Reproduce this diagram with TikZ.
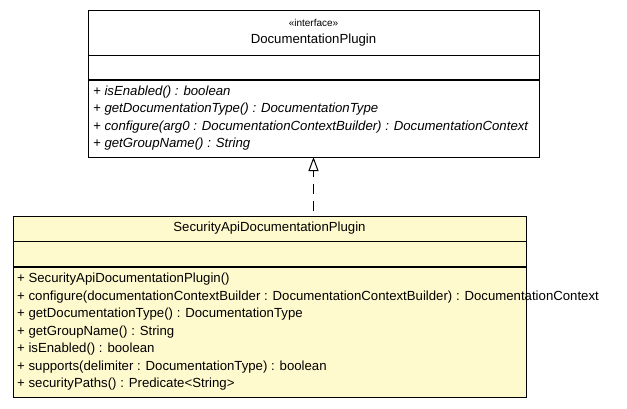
\documentclass[tikz,border=0pt]{standalone}
\usepackage{fontspec}
\setmainfont{Liberation Sans}
\usetikzlibrary{arrows.meta}
\definecolor{noteyellow}{RGB}{255,250,205}
\begin{document}
\begin{tikzpicture}[x=1pt,y=-1pt,
  umlbox/.style={draw=black, line width=1pt, inner sep=0pt, anchor=north west},
  sep/.style={draw=black, line width=1pt},
  septhick/.style={draw=black, line width=1.6pt},
  txt/.style={font=\fontsize{13.2}{15}\selectfont, inner sep=0pt},
  meth/.style={txt, anchor=west},
  imeth/.style={txt, anchor=west, font=\fontsize{13.2}{15}\selectfont\itshape}]
\useasboundingbox (0,0) rectangle (627,408);
% interface box
\node[umlbox, fill=white, minimum width=451pt, minimum height=147pt] (iface) at (88,10) {};
\draw[sep] (88,55) -- (539,55);
\draw[septhick] (88,80) -- (539,80);
\node[txt, font=\fontsize{10}{12}\selectfont] (stereo) at (313.5,23) {«interface»};
\node[txt] (iname) at (313.5,40) {DocumentationPlugin};
\node[imeth] (im1) at (93,92) {+ isEnabled() : boolean};
\node[imeth] (im2) at (93,109.5) {+ getDocumentationType() : DocumentationType};
\node[imeth] (im3) at (93,127) {+ configure(arg0 : DocumentationContextBuilder) : DocumentationContext};
\node[imeth] (im4) at (93,144.5) {+ getGroupName() : String};
% class box
\node[umlbox, fill=noteyellow, minimum width=513pt, minimum height=181pt] (cls) at (13,216) {};
\draw[sep] (13,241) -- (526,241);
\draw[septhick] (13,267) -- (526,267);
\node[txt] (cname) at (269.5,228) {SecurityApiDocumentationPlugin};
\node[meth] (m1) at (17,279.5) {+ SecurityApiDocumentationPlugin()};
\node[meth] (m2) at (17,297) {+ configure(documentationContextBuilder : DocumentationContextBuilder) : DocumentationContext};
\node[meth] (m3) at (17,314.5) {+ getDocumentationType() : DocumentationType};
\node[meth] (m4) at (17,332) {+ getGroupName() : String};
\node[meth] (m5) at (17,349.5) {+ isEnabled() : boolean};
\node[meth] (m6) at (17,367) {+ supports(delimiter : DocumentationType) : boolean};
\node[meth] (m7) at (17,384.5) {+ securityPaths() : Predicate<String>};
% realization
\coordinate (top) at (313.5,157);
\coordinate (bot) at (313.5,216);
\draw[line width=1pt, dash pattern=on 10pt off 7pt, dash phase=12pt, -{Triangle[open, length=14pt, width=10pt]}] (bot) -- (top);
\end{tikzpicture}
\end{document}
